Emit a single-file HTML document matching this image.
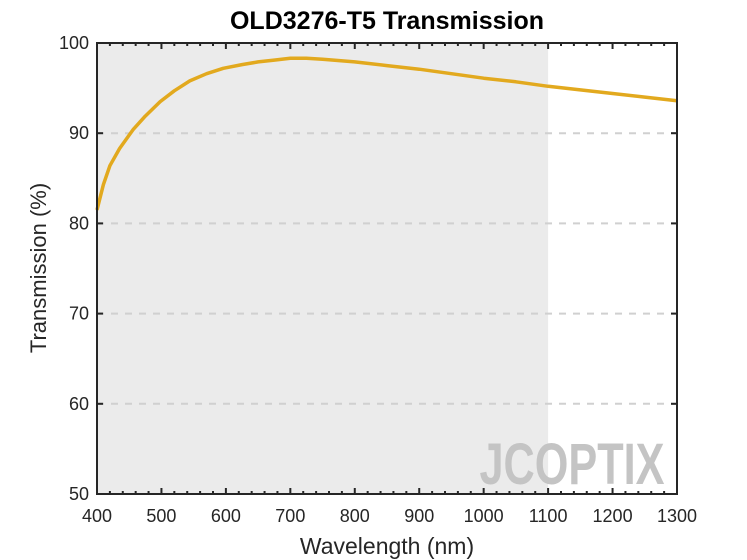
<!DOCTYPE html>
<html><head><meta charset="utf-8"><style>
body{margin:0;background:#fff;}
svg{display:block;font-family:"Liberation Sans",Arial,sans-serif;}
</style></head><body>
<svg id="chart" width="747" height="560" viewBox="0 0 747 560">
<rect x="0" y="0" width="747" height="560" fill="#fff"/>
<text x="387" y="29" text-anchor="middle" font-size="25" font-weight="bold" fill="#000">OLD3276-T5 Transmission</text>
<g id="plot"></g>
<text x="387" y="554" text-anchor="middle" font-size="23" fill="#262626">Wavelength (nm)</text>
<text transform="translate(46,268) rotate(-90)" text-anchor="middle" font-size="22" fill="#262626">Transmission (%)</text>
</svg>
<script>
const wavelengths=[400,410,420,435,456,475,498,520,544,570,596,625,650,675,700,725,750,800,850,900,950,1000,1050,1100,1150,1200,1250,1300];
const transmission=[81.5,84.3,86.4,88.3,90.4,91.9,93.5,94.7,95.8,96.6,97.2,97.6,97.9,98.1,98.3,98.3,98.2,97.9,97.5,97.1,96.6,96.1,95.7,95.2,94.8,94.4,94.0,93.6];
const xTicks=[400,500,600,700,800,900,1000,1100,1200,1300];
const yTicks=[50,60,70,80,90,100];
const shadeRange=[400,1100];
const X0=97,X1=677,Y0=494,Y1=43;
const xs=v=>X0+(v-400)/900*(X1-X0);
const ys=v=>Y0-(v-50)/50*(Y0-Y1);
const NS='http://www.w3.org/2000/svg';
const g=document.getElementById('plot');
function mk(t,a,p){const e=document.createElementNS(NS,t);for(const k in a)e.setAttribute(k,a[k]);(p||g).appendChild(e);return e;}
const sh=mk('rect',{x:xs(shadeRange[0]),y:Y1,width:xs(shadeRange[1])-xs(shadeRange[0]),height:Y0-Y1,fill:'#ebebeb'});


const wm=mk('text',{x:572,y:484,'text-anchor':'middle','font-size':58,'font-weight':'bold',fill:'#c4c4c4','textLength':185,lengthAdjust:'spacingAndGlyphs'});
wm.textContent='JCOPTIX';


yTicks.forEach(v=>{
 if(v>50&&v<100){const l=mk('line',{x1:X0,x2:X1,y1:ys(v),y2:ys(v),stroke:'#d0d0d0','stroke-width':2,'stroke-dasharray':'7,7'});
 
 }
 mk('line',{x1:X0,x2:X0+6,y1:ys(v),y2:ys(v),stroke:'#262626','stroke-width':2});
 mk('line',{x1:X1,x2:X1-6,y1:ys(v),y2:ys(v),stroke:'#262626','stroke-width':2});
 const t=mk('text',{x:X0-8,y:ys(v)+6,'text-anchor':'end','font-size':18,fill:'#262626'});
 t.textContent=v;
 
 
});
for(let w=400;w<=1300;w+=20){
 const major=(w%100===0);const L=major?6:3;
 mk('line',{x1:xs(w),x2:xs(w),y1:Y0,y2:Y0-L,stroke:'#262626','stroke-width':2});
 mk('line',{x1:xs(w),x2:xs(w),y1:Y1,y2:Y1+L,stroke:'#262626','stroke-width':2});
}
xTicks.forEach(v=>{
 const t=mk('text',{x:xs(v),y:Y0+28,'text-anchor':'middle','font-size':18,fill:'#262626'});
 t.textContent=v;
 
 
});
let d='';wavelengths.forEach((w,i)=>{d+=(i?'L':'M')+xs(w).toFixed(1)+','+ys(transmission[i]).toFixed(1);});
const line=mk('path',{d:d,fill:'none',stroke:'#e2a91e','stroke-width':3.5,'stroke-linejoin':'round'});


const ax=mk('rect',{x:X0,y:Y1,width:X1-X0,height:Y0-Y1,fill:'none',stroke:'#262626','stroke-width':2});


</script>
</body></html>
